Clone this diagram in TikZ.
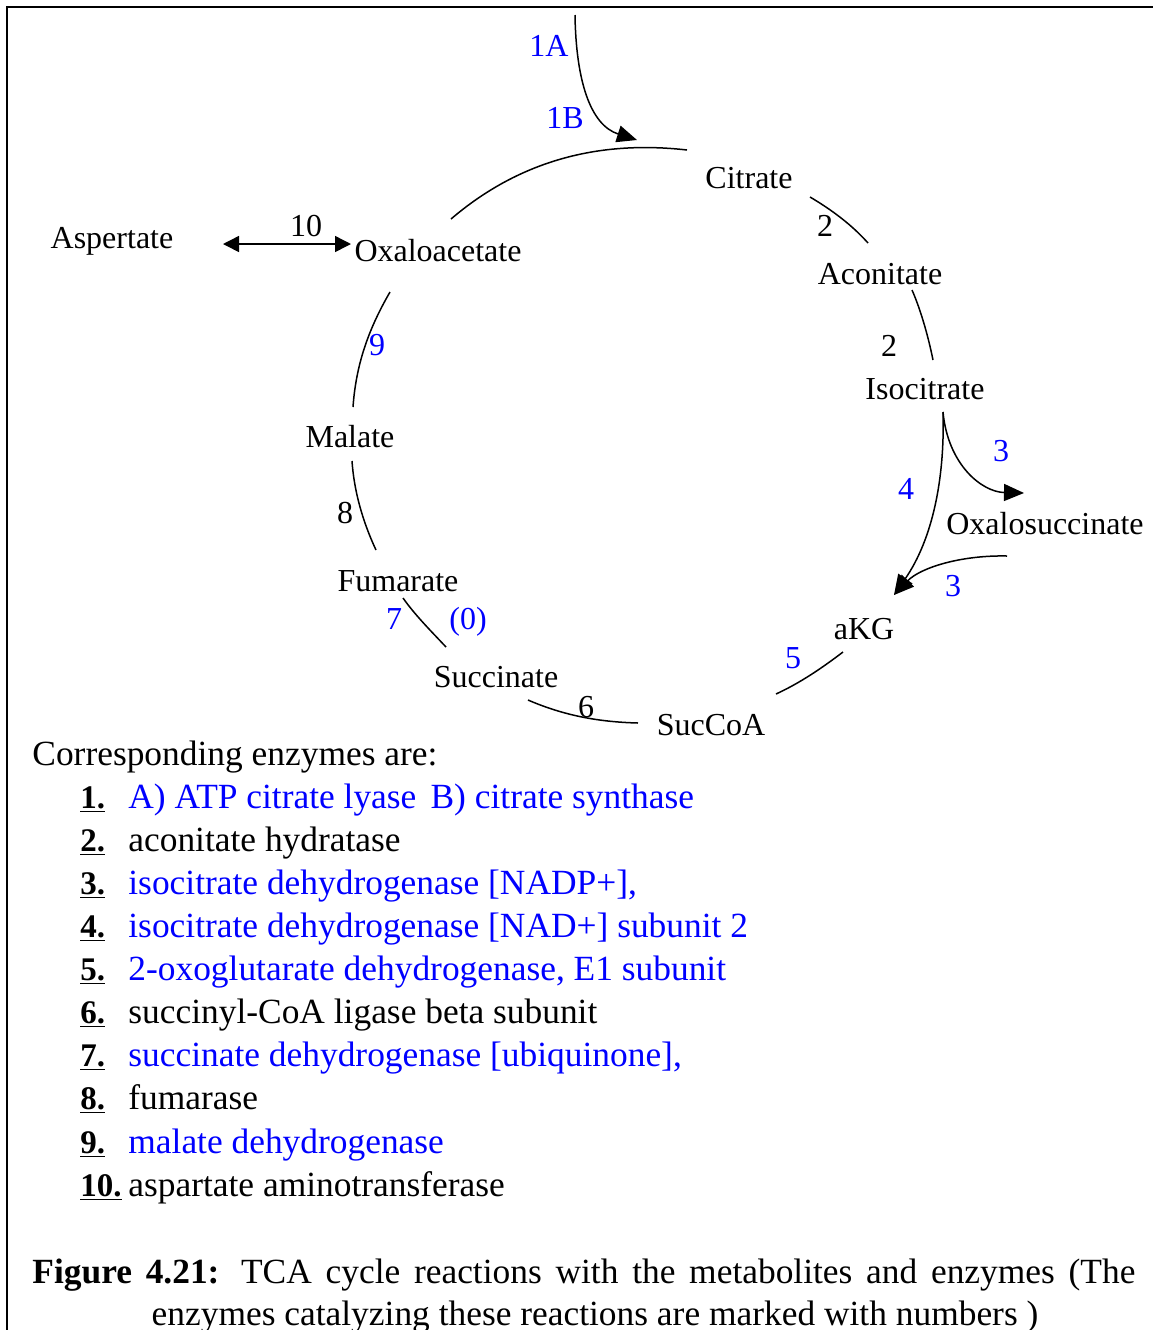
\documentclass[tikz,border=0pt]{standalone}
\usepackage{fontspec}
\setmainfont{Liberation Serif}
\usetikzlibrary{arrows.meta}
\begin{document}
\begin{tikzpicture}[x=0.5pt,y=-0.5pt,
  met/.style={anchor=base,inner sep=0pt,font=\fontsize{16}{19}\selectfont},
  numk/.style={met},
  numb/.style={met,text=blue},
  rxn/.style={line width=0.75pt},
  tip/.style={-{Triangle[length=10pt,width=8.5pt]}},
  item/.style={anchor=base west,inner sep=0pt,font=\fontsize{17.7}{21}\selectfont},
  itemb/.style={item,text=blue},
  nr/.style={item,font=\fontsize{16.5}{21}\selectfont\bfseries}
]
\useasboundingbox (0,0) rectangle (1153,1330);
% frame
\draw[line width=1pt] (7,1330) -- (7,7) -- (1153,7);

% metabolites
\node[met] (cit)  at (749,188) {Citrate};
\node[met] (aco)  at (880,284) {Aconitate};
\node[met] (icit) at (925,399) {Isocitrate};
\node[met] (oxs)  at (1045,534) {Oxalosuccinate};
\node[met] (akg)  at (864,639) {aKG};
\node[met] (scoa) at (711,735) {SucCoA};
\node[met] (suc)  at (496,687) {Succinate};
\node[met] (fum)  at (398,591) {Fumarate};
\node[met] (mal)  at (350,447) {Malate};
\node[met] (oaa)  at (438,261) {Oxaloacetate};
\node[met] (asp)  at (112,248) {Aspertate};

% enzyme numbers
\node[numb] (e1a) at (549,56)  {1A};
\node[numb] (e1b) at (565,128) {1B};
\node[numk] (e2a) at (825,236) {2};
\node[numk] (e2b) at (889,356) {2};
\node[numb] (e3a) at (1001,461) {3};
\node[numb] (e4)  at (906,499) {4};
\node[numb] (e3b) at (953,596) {3};
\node[numb] (e5)  at (793,668) {5};
\node[numk] (e6)  at (586,717) {6};
\node[numb] (e7)  at (394,629) {7};
\node[numb] (e0)  at (468,629) {(0)};
\node[numk] (e8)  at (345,523) {8};
\node[numb] (e9)  at (377,355) {9};
\node[numk] (e10) at (306,236) {10};

% arc end points
\coordinate (in1)  at (575,15);
\coordinate (t1)   at (637,140);
\coordinate (oaaR) at (451,219);
\coordinate (citL) at (687,150);
\coordinate (citR) at (810,197);
\coordinate (acoT) at (868,243);
\coordinate (acoB) at (912,290);
\coordinate (icT)  at (933,360);
\coordinate (icB)  at (943,412);
\coordinate (akgT) at (894,595);
\coordinate (oxsT) at (1024,493);
\coordinate (oxsB) at (1007,556);
\coordinate (akgB) at (843,652);
\coordinate (scoaR) at (776,694);
\coordinate (scoaL) at (638,723);
\coordinate (sucR) at (528,700);
\coordinate (sucT) at (446,647);
\coordinate (fumB) at (403,598);
\coordinate (fumT) at (376,550);
\coordinate (malB) at (352,461);
\coordinate (malT) at (353,407);
\coordinate (oaaB) at (390,292);
\coordinate (aspR) at (223,244);
\coordinate (oaaL) at (351,244);

% cycle
\draw[rxn,tip] (in1) .. controls (576,80) and (590,125) .. (t1);
\draw[rxn] (oaaR) .. controls (520,160) and (600,140) .. (citL);
\draw[rxn] (citR) .. controls (832,210) and (852,225) .. (acoT);
\draw[rxn] (acoB) .. controls (920,308) and (928,335) .. (icT);
\draw[rxn,tip] (icB) .. controls (945,480) and (932,540) .. (akgT);
\draw[rxn,tip] (icB) .. controls (948,465) and (982,492) .. (oxsT);
\draw[rxn,tip] (oxsB) .. controls (960,555) and (920,568) .. (akgT);
\draw[rxn] (akgB) .. controls (822,668) and (800,683) .. (scoaR);
\draw[rxn] (sucR) .. controls (565,716) and (600,722) .. (scoaL);
\draw[rxn] (sucT) .. controls (430,630) and (415,615) .. (fumB);
\draw[rxn] (fumT) .. controls (362,520) and (354,490) .. (malB);
\draw[rxn] (malT) .. controls (356,365) and (368,330) .. (oaaB);
\draw[rxn,{Triangle[length=8pt,width=8pt]}-{Triangle[length=8pt,width=8pt]}] (aspR) -- (oaaL);

% enzyme list
\node[item] (hd) at (32,765) {Corresponding enzymes are:};
\node[nr] (n1)  at (80,808)  {\underline{1.}};
\node[nr] (n2)  at (80,851)  {\underline{2.}};
\node[nr] (n3)  at (80,894)  {\underline{3.}};
\node[nr] (n4)  at (80,937)  {\underline{4.}};
\node[nr] (n5)  at (80,980)  {\underline{5.}};
\node[nr] (n6)  at (80,1023) {\underline{6.}};
\node[nr] (n7)  at (80,1066) {\underline{7.}};
\node[nr] (n8)  at (80,1109) {\underline{8.}};
\node[nr] (n9)  at (80,1153) {\underline{9.}};
\node[nr] (n10) at (80,1196) {\underline{10.}};
\node[itemb] (l1)  at (128,808)  {A) ATP citrate lyase\hspace{0.4em}B) citrate synthase};
\node[item]  (l2)  at (128,851)  {aconitate hydratase};
\node[itemb] (l3)  at (128,894)  {isocitrate dehydrogenase [NADP+],};
\node[itemb] (l4)  at (128,937)  {isocitrate dehydrogenase [NAD+] subunit 2};
\node[itemb] (l5)  at (128,980)  {2-oxoglutarate dehydrogenase, E1 subunit};
\node[item]  (l6)  at (128,1023) {succinyl-CoA ligase beta subunit};
\node[itemb] (l7)  at (128,1066) {succinate dehydrogenase [ubiquinone],};
\node[item]  (l8)  at (128,1109) {fumarase};
\node[itemb] (l9)  at (128,1153) {malate dehydrogenase};
\node[item]  (l10) at (128,1196) {aspartate aminotransferase};

% caption
\node[item] (cap1) at (32,1283) {\makebox[551.5pt][s]{\textbf{Figure 4.21:} TCA cycle reactions with the metabolites and enzymes (The}};
\node[item,anchor=base] (cap2) at (595,1325) {enzymes catalyzing these reactions are marked with numbers )};
\end{tikzpicture}
\end{document}
